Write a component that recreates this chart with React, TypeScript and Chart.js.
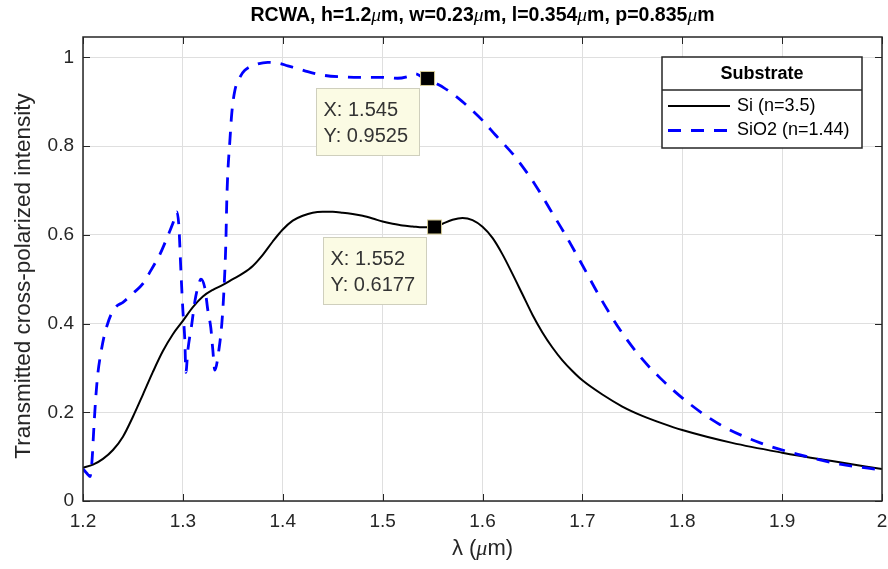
import React, { useEffect, useRef } from "react";
import { Chart, registerables } from "chart.js";

Chart.register(...registerables);

// ---- Data ----
const siWavelengths = [
  1.2, 1.21, 1.22, 1.23, 1.24, 1.25, 1.26, 1.27, 1.28, 1.29, 1.3, 1.31, 1.32, 1.33, 1.34, 1.35, 1.36,
  1.37, 1.38, 1.39, 1.4, 1.41, 1.42, 1.43, 1.44, 1.45, 1.46, 1.47, 1.48, 1.49, 1.5, 1.51, 1.52, 1.53,
  1.54, 1.552, 1.56, 1.57, 1.58, 1.59, 1.6, 1.61, 1.62, 1.63, 1.64, 1.65, 1.66, 1.67, 1.68, 1.69, 1.7,
  1.72, 1.74, 1.76, 1.78, 1.8, 1.85, 1.9, 1.95, 2.0,
];
const siIntensity = [
  0.075, 0.082, 0.095, 0.115, 0.145, 0.19, 0.24, 0.291, 0.338, 0.376, 0.406, 0.437, 0.461, 0.476, 0.487,
  0.5, 0.513, 0.53, 0.555, 0.585, 0.612, 0.632, 0.643, 0.65, 0.652, 0.652, 0.65, 0.647, 0.643, 0.637,
  0.63, 0.625, 0.621, 0.619, 0.617, 0.6177, 0.625, 0.634, 0.638, 0.633, 0.618, 0.593, 0.556, 0.512,
  0.466, 0.42, 0.38, 0.346, 0.317, 0.293, 0.272, 0.24, 0.213, 0.192, 0.175, 0.16, 0.131, 0.109, 0.09,
  0.072,
];

const sio2Wavelengths = [
  1.2, 1.204, 1.207, 1.209, 1.211, 1.213, 1.215, 1.218, 1.221, 1.224, 1.228, 1.233, 1.24, 1.25, 1.26,
  1.268, 1.277, 1.285, 1.29, 1.294, 1.296, 1.298, 1.3, 1.302, 1.303, 1.305, 1.309, 1.312, 1.316, 1.318,
  1.322, 1.325, 1.328, 1.33, 1.332, 1.336, 1.339, 1.341, 1.343, 1.344, 1.345, 1.347, 1.349, 1.352,
  1.357, 1.362, 1.372, 1.385, 1.396, 1.405, 1.415, 1.425, 1.44, 1.46, 1.48, 1.5, 1.515, 1.527, 1.533,
  1.54, 1.545, 1.553, 1.561, 1.57, 1.579, 1.59, 1.6, 1.613, 1.633, 1.653, 1.668, 1.683, 1.698, 1.718,
  1.738, 1.758, 1.778, 1.808, 1.838, 1.878, 1.918, 1.958, 2.0,
];
const sio2Intensity = [
  0.072, 0.062, 0.055, 0.09, 0.17, 0.24, 0.29, 0.335, 0.37, 0.395, 0.42, 0.438, 0.448, 0.468, 0.49,
  0.52, 0.556, 0.598, 0.626, 0.652, 0.62, 0.52, 0.43, 0.36, 0.29, 0.34, 0.4, 0.45, 0.49, 0.5, 0.48,
  0.43, 0.39, 0.34, 0.295, 0.34, 0.4, 0.47, 0.58, 0.68, 0.74, 0.81, 0.875, 0.925, 0.955, 0.971, 0.983,
  0.989, 0.987, 0.981, 0.975, 0.968, 0.96, 0.956, 0.955, 0.955, 0.953, 0.958, 0.963, 0.955, 0.9525,
  0.942, 0.932, 0.918, 0.902, 0.88, 0.858, 0.825, 0.775, 0.712, 0.656, 0.6, 0.54, 0.458, 0.385,
  0.325, 0.277, 0.218, 0.172, 0.131, 0.104, 0.083, 0.07,
];

const seriesLabels = ["Si (n=3.5)", "SiO2 (n=1.44)"];
const legendTitle = "Substrate";
const xTickValues = [1.2, 1.3, 1.4, 1.5, 1.6, 1.7, 1.8, 1.9, 2.0];
const yTickValues = [0, 0.2, 0.4, 0.6, 0.8, 1.0];
const xRange = [1.2, 2.0];
const yRange = [0, 1.046];

const titleParts: [string, boolean][] = [
  ["RCWA, h=1.2", false], ["\u03bc", true], ["m, w=0.23", false], ["\u03bc", true],
  ["m, l=0.354", false], ["\u03bc", true], ["m, p=0.835", false], ["\u03bc", true], ["m", false],
];
const xLabelParts: [string, boolean][] = [["\u03bb (", false], ["\u03bc", true], ["m)", false]];
const yLabel = "Transmitted cross-polarized intensity";

const dataTips = [
  { dataset: 1, x: 1.545, y: 0.9525 },
  { dataset: 0, x: 1.552, y: 0.6177 },
];

const FONT = "'Liberation Sans', Arial, sans-serif";
const AXIS_COLOR = "#262626";

const fmt = (v: number) => String(Number(v.toFixed(2)));

const decorPlugin = {
  id: "decor",
  afterDraw(chart: any) {
    const ctx: CanvasRenderingContext2D = chart.ctx;
    const { left, right, top, bottom } = chart.chartArea;
    const xs = chart.scales.x;
    const ys = chart.scales.y;
    ctx.save();

    // inward ticks
    ctx.strokeStyle = AXIS_COLOR;
    ctx.lineWidth = 1;
    const tl = 7;
    ctx.beginPath();
    xTickValues.forEach((v) => {
      const px = Math.round(xs.getPixelForValue(v)) + 0.5;
      ctx.moveTo(px, bottom);
      ctx.lineTo(px, bottom - tl);
      ctx.moveTo(px, top);
      ctx.lineTo(px, top + tl);
    });
    yTickValues.forEach((v) => {
      const py = Math.round(ys.getPixelForValue(v)) + 0.5;
      ctx.moveTo(left, py);
      ctx.lineTo(left + tl, py);
      ctx.moveTo(right, py);
      ctx.lineTo(right - tl, py);
    });
    ctx.stroke();

    // box
    ctx.lineWidth = 1.5;
    ctx.strokeRect(left, top, right - left, bottom - top);

    // mixed-font text helper
    const drawParts = (parts: [string, boolean][], cx: number, cy: number, normal: string, italic: string) => {
      let total = 0;
      parts.forEach(([t, it]) => {
        ctx.font = it ? italic : normal;
        total += ctx.measureText(t).width;
      });
      let x = cx - total / 2;
      ctx.textAlign = "left";
      ctx.textBaseline = "middle";
      parts.forEach(([t, it]) => {
        ctx.font = it ? italic : normal;
        ctx.fillText(t, x, cy);
        x += ctx.measureText(t).width;
      });
    };

    // title
    ctx.fillStyle = "#000";
    drawParts(titleParts, (left + right) / 2, 16, `bold 19.5px ${FONT}`, `italic 19.5px 'Liberation Serif', serif`);

    // x label
    ctx.fillStyle = AXIS_COLOR;
    drawParts(xLabelParts, (left + right) / 2, 549, `22px ${FONT}`, `italic 22px 'Liberation Serif', serif`);

    // y label
    ctx.save();
    ctx.translate(24, 276);
    ctx.rotate(-Math.PI / 2);
    ctx.font = `22.5px ${FONT}`;
    ctx.textAlign = "center";
    ctx.textBaseline = "middle";
    ctx.fillText(yLabel, 0, 0);
    ctx.restore();

    // legend
    const lx = 662, ly = 57, lw = 200, lh = 91;
    ctx.fillStyle = "#fff";
    ctx.fillRect(lx, ly, lw, lh);
    ctx.strokeStyle = AXIS_COLOR;
    ctx.lineWidth = 1.5;
    ctx.strokeRect(lx, ly, lw, lh);
    ctx.beginPath();
    ctx.moveTo(lx, ly + 33);
    ctx.lineTo(lx + lw, ly + 33);
    ctx.stroke();
    ctx.fillStyle = "#000";
    ctx.font = `bold 18px ${FONT}`;
    ctx.textAlign = "center";
    ctx.textBaseline = "middle";
    ctx.fillText(legendTitle, lx + lw / 2, ly + 17);
    const ds = chart.data.datasets;
    [0, 1].forEach((i) => {
      const y = ly + 49 + i * 24.5;
      ctx.strokeStyle = ds[i].borderColor;
      ctx.lineWidth = ds[i].borderWidth;
      ctx.setLineDash(ds[i].borderDash || []);
      ctx.beginPath();
      ctx.moveTo(lx + 6, y);
      ctx.lineTo(lx + 68, y);
      ctx.stroke();
      ctx.setLineDash([]);
      ctx.fillStyle = "#000";
      ctx.font = `18px ${FONT}`;
      ctx.textAlign = "left";
      ctx.fillText(seriesLabels[i], lx + 75, y);
    });

    // data tips
    dataTips.forEach((d) => {
      const px = xs.getPixelForValue(d.x);
      const py = ys.getPixelForValue(d.y);
      const bx = Math.round(px - 112) + 0.5;
      const by = Math.round(py + 10) + 0.5;
      ctx.fillStyle = "#fbfbe4";
      ctx.fillRect(bx, by, 103, 67);
      ctx.strokeStyle = "#cfcfbd";
      ctx.lineWidth = 1;
      ctx.strokeRect(bx, by, 103, 67);
      ctx.fillStyle = "#333";
      ctx.font = `20px ${FONT}`;
      ctx.textAlign = "left";
      ctx.textBaseline = "middle";
      ctx.fillText(`X: ${d.x}`, bx + 7, by + 22);
      ctx.fillText(`Y: ${d.y}`, bx + 7, by + 48);
      // marker
      ctx.fillStyle = "#000";
      ctx.fillRect(px - 7, py - 7, 14, 14);
      ctx.strokeStyle = "#d6cc96";
      ctx.strokeRect(px - 7, py - 7, 14, 14);
    });

    ctx.restore();
  },
};

export default function App() {
  const ref = useRef<HTMLCanvasElement | null>(null);
  useEffect(() => {
    if (!ref.current) return;
    const chart = new Chart(ref.current, {
      type: "line",
      data: {
        datasets: [
          {
            label: seriesLabels[0],
            data: siWavelengths.map((x, i) => ({ x, y: siIntensity[i] })),
            borderColor: "#000000",
            borderWidth: 2,
            pointRadius: 0,
            cubicInterpolationMode: "monotone",
            fill: false,
            order: 1,
          },
          {
            label: seriesLabels[1],
            data: sio2Wavelengths.map((x, i) => ({ x, y: sio2Intensity[i] })),
            borderColor: "#0000ff",
            borderWidth: 2.8,
            borderDash: [13, 10],
            pointRadius: 0,
            cubicInterpolationMode: "monotone",
            fill: false,
            order: 0,
          },
        ] as any,
      },
      options: {
        animation: false,
        responsive: false,
        maintainAspectRatio: false,
        layout: { padding: { left: 0, right: 6, top: 37, bottom: 0 } },
        plugins: { legend: { display: false }, tooltip: { enabled: false }, title: { display: false } },
        scales: {
          x: {
            type: "linear",
            min: xRange[0],
            max: xRange[1],
            afterFit: (s: any) => { s.height = 68; s.paddingLeft = 0; s.paddingRight = 0; },
            afterBuildTicks: (s: any) => { s.ticks = xTickValues.map((v) => ({ value: v })); },
            ticks: {
              callback: (v: any) => fmt(Number(v)),
              font: { family: FONT, size: 19 },
              color: AXIS_COLOR,
              padding: 9,
              maxRotation: 0,
              autoSkip: false,
            },
            grid: { color: "#dfdfdf", drawTicks: false, lineWidth: 1 },
            border: { display: false },
          },
          y: {
            type: "linear",
            min: yRange[0],
            max: yRange[1],
            afterFit: (s: any) => { s.width = 83; s.paddingTop = 0; s.paddingBottom = 0; },
            afterBuildTicks: (s: any) => { s.ticks = yTickValues.map((v) => ({ value: v })); },
            ticks: {
              callback: (v: any) => fmt(Number(v)),
              font: { family: FONT, size: 19 },
              color: AXIS_COLOR,
              padding: 9,
              autoSkip: false,
            },
            grid: { color: "#dfdfdf", drawTicks: false, lineWidth: 1 },
            border: { display: false },
          },
        },
      },
      plugins: [decorPlugin],
    });
    return () => chart.destroy();
  }, []);
  return (
    <div style={{ position: "fixed", left: 0, top: 0, width: 888, height: 569, background: "#fff" }}>
      <canvas ref={ref} width={888} height={569} style={{ display: "block" }} />
    </div>
  );
}
